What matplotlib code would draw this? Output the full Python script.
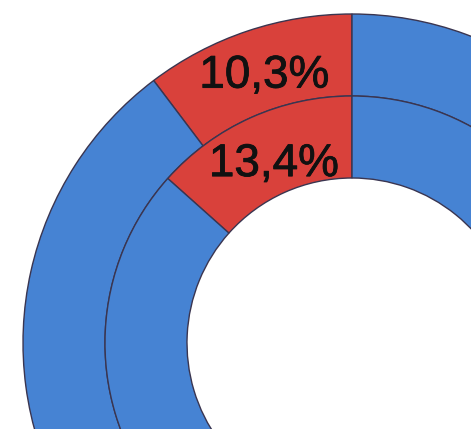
import matplotlib.pyplot as plt
import matplotlib.patheffects as pe
import numpy as np

# values (%), first slice red, rest blue
outer_vals = [10.3, 89.7]
inner_vals = [13.4, 86.6]
colors = ["#d9413b", "#4683d3"]

plt.rcParams['font.family'] = ['Liberation Sans', 'DejaVu Sans']

fig = plt.figure(figsize=(4.71, 4.29), dpi=100)
ax = fig.add_axes([0, 0, 1, 1])

r_out = 329
r_mid = 247
r_in = 165

w_out, _ = ax.pie(outer_vals, radius=r_out, colors=colors, startangle=90,
                  counterclock=True,
                  wedgeprops=dict(width=r_out - r_mid, edgecolor="#3a3550", linewidth=1))
w_in, _ = ax.pie(inner_vals, radius=r_mid, colors=colors, startangle=90,
                 counterclock=True,
                 wedgeprops=dict(width=r_mid - r_in, edgecolor="#3a3550", linewidth=1))

for wedges, vals, rr in [(w_out, outer_vals, 282), (w_in, inner_vals, 196)]:
    w = wedges[0]
    ang = np.deg2rad((w.theta1 + w.theta2) / 2)
    txt = ("%.1f%%" % vals[0]).replace(".", ",")
    ax.text(rr * np.cos(ang) + 2, rr * np.sin(ang), txt, ha="center", va="center",
            fontsize=33, color="#111111",
            path_effects=[pe.withStroke(linewidth=0.6, foreground="#111111")])

ax.set_xlim(-352, 119)
ax.set_ylim(-86, 343)
ax.set_aspect("equal")
ax.set_xticks([])
ax.set_yticks([])
for s in ["top", "left", "right"]:
    ax.spines[s].set_visible(False)
ax.spines["bottom"].set_color("#a0a0a0")
ax.spines["bottom"].set_linewidth(2)

fig.savefig("out.png", dpi=100)
